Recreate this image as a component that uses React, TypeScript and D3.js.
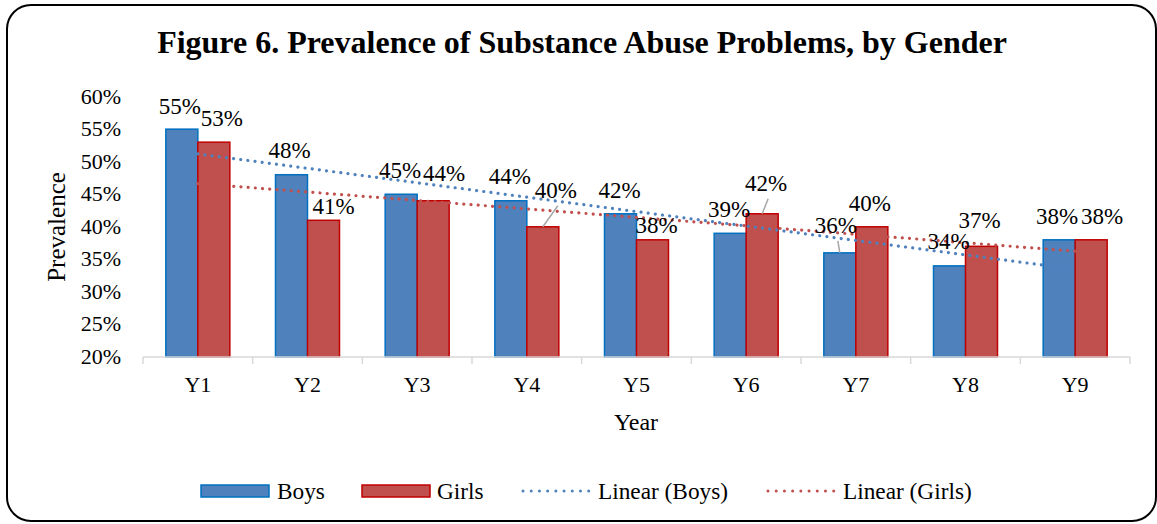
import React from "react";
import * as d3 from "d3";

const categories = ["Y1", "Y2", "Y3", "Y4", "Y5", "Y6", "Y7", "Y8", "Y9"];
const boys = [55, 48, 45, 44, 42, 39, 36, 34, 38];
const girls = [53, 41, 44, 40, 38, 42, 40, 37, 38];
const yTicks = [20, 25, 30, 35, 40, 45, 50, 55, 60];
// manual label nudges (dx, gap above bar) as in the original
const boysLabelAdj = [[-2, 15], [-2, 17], [-1, 16], [-1, 17], [-1, 16], [-1, 16], [-4, 20], [-1, 17], [-2, 16]];
const girlsLabelAdj = [[8, 16], [10, 6], [11, 20], [13, 29], [4, 7], [4, 23], [-2, 16], [-2, 18], [11, 16]];
const girlsLeader = [false, false, false, true, false, true, false, false, false];
const boysLeader = [false, false, false, false, false, false, true, false, false];

const W = 1157, H = 524;
const FONT = "'Liberation Serif', 'Times New Roman', serif";
const BLUE = "#4f81bd", BLUE_S = "#0070c0";
const RED = "#c0504d", RED_S = "#c00000";

function regression(vals: number[]) {
  const n = vals.length;
  const xs = vals.map((_, i) => i + 1);
  const mx = d3.mean(xs)!, my = d3.mean(vals)!;
  let sxy = 0, sxx = 0;
  xs.forEach((x, i) => { sxy += (x - mx) * (vals[i] - my); sxx += (x - mx) * (x - mx); });
  const b = sxy / sxx;
  const a = my - b * mx;
  return [a + b * 1, a + b * n];
}

export default function App() {
  const x0 = 143, x1 = 1130, yTop = 96.6, yBot = 357;
  const xBand = d3.scaleBand<string>().domain(categories).range([x0, x1]).paddingInner(0).paddingOuter(0);
  const bw = 32;
  const y = d3.scaleLinear().domain([20, 60]).range([yBot, yTop]);
  const cx = (c: string) => xBand(c)! + xBand.bandwidth() / 2;

  const tb = regression(boys);
  const tg = regression(girls);
  const line = d3.line<[number, number]>().x(d => d[0]).y(d => d[1]);
  const first = categories[0], last = categories[categories.length - 1];

  const labels: any[] = [];
  categories.forEach((c, i) => {
    const bx = cx(c) - bw / 2, gx = cx(c) + bw / 2;
    labels.push({ x: bx + boysLabelAdj[i][0], y: y(boys[i]) - boysLabelAdj[i][1], t: boys[i] + "%", lead: boysLeader[i], bx, by: y(boys[i]) });
    labels.push({ x: gx + girlsLabelAdj[i][0], y: y(girls[i]) - girlsLabelAdj[i][1], t: girls[i] + "%", lead: girlsLeader[i], bx: gx, by: y(girls[i]) });
  });

  const boundaries = d3.range(categories.length + 1).map(i => x0 + i * xBand.bandwidth());

  const legendY = 491;
  const ts = { fontFamily: FONT };
  return (
    <svg width={W} height={H} style={{ position: "absolute", left: 0, top: 0, background: "#fff", fontFamily: FONT }}>
      <rect x={7} y={5} width={1149} height={516} rx={24} fill="#fff" stroke="#000" strokeWidth={2} />
      <text style={ts} x={582} y={53} textAnchor="middle" fontSize={32} fontWeight="bold">Figure 6. Prevalence of Substance Abuse Problems, by Gender</text>

      {yTicks.map(t => (
        <text style={ts} key={t} x={121} y={y(t) + 7} textAnchor="end" fontSize={22}>{t}%</text>
      ))}
      <text style={ts} transform={`translate(65,227) rotate(-90)`} textAnchor="middle" fontSize={25}>Prevalence</text>

      {categories.map((c, i) => (
        <g key={c}>
          <rect x={cx(c) - bw} y={y(boys[i])} width={bw} height={yBot - y(boys[i])} fill={BLUE} stroke={BLUE_S} strokeWidth={1.5} />
          <rect x={cx(c)} y={y(girls[i])} width={bw} height={yBot - y(girls[i])} fill={RED} stroke={RED_S} strokeWidth={1.5} />
        </g>
      ))}

      <line x1={x0} x2={x1} y1={yBot} y2={yBot} stroke="#d9d9d9" strokeWidth={1.5} />
      {boundaries.map((bx, i) => (
        <line key={i} x1={bx} x2={bx} y1={yBot} y2={364} stroke="#d9d9d9" strokeWidth={1.5} />
      ))}
      {categories.map(c => (
        <text style={ts} key={c} x={cx(c)} y={392} textAnchor="middle" fontSize={22}>{c}</text>
      ))}
      <text style={ts} x={636} y={430} textAnchor="middle" fontSize={24}>Year</text>

      <path d={line([[cx(first), y(tb[0])], [cx(last), y(tb[1])]])!} stroke={BLUE} strokeWidth={3.2} strokeDasharray="0.01 7.2" strokeLinecap="round" fill="none" />
      <path d={line([[cx(first), y(tg[0])], [cx(last), y(tg[1])]])!} stroke={RED} strokeWidth={3.2} strokeDasharray="0.01 7.2" strokeLinecap="round" fill="none" />

      {labels.map((l, i) => (
        <g key={i}>
          {l.lead && <line x1={l.x + 2} y1={l.y + 8} x2={l.bx} y2={l.by} stroke="#a6a6a6" strokeWidth={1.5} />}
          <text style={ts} x={l.x} y={l.y} textAnchor="middle" fontSize={23}>{l.t}</text>
        </g>
      ))}

      {/* legend */}
      <rect x={201} y={485} width={68} height={12} fill={BLUE} stroke={BLUE_S} strokeWidth={1.5} />
      <text style={ts} x={277} y={499} fontSize={23.3}>Boys</text>
      <rect x={362} y={485} width={68} height={12} fill={RED} stroke={RED_S} strokeWidth={1.5} />
      <text style={ts} x={437} y={499} fontSize={23.3}>Girls</text>
      <line x1={523} x2={589} y1={legendY} y2={legendY} stroke={BLUE} strokeWidth={3} strokeDasharray="0.01 8.2" strokeLinecap="round" />
      <text style={ts} x={598} y={499} fontSize={23.3}>Linear (Boys)</text>
      <line x1={768} x2={834} y1={legendY} y2={legendY} stroke={RED} strokeWidth={3} strokeDasharray="0.01 8.2" strokeLinecap="round" />
      <text style={ts} x={843} y={499} fontSize={23.3}>Linear (Girls)</text>
    </svg>
  );
}
